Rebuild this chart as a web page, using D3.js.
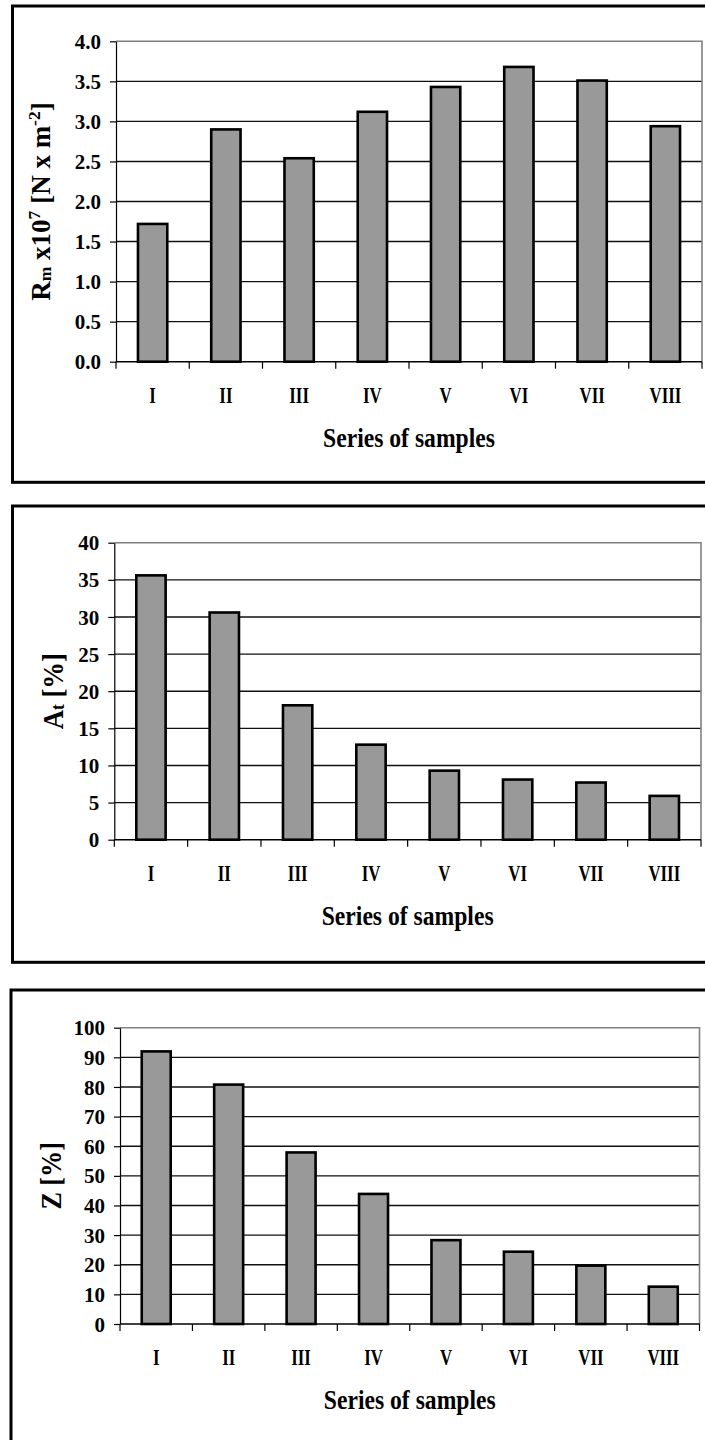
<!DOCTYPE html>
<html>
<head>
<meta charset="utf-8">
<script src="https://cdn.jsdelivr.net/npm/d3@7"></script>
<style>
  html, body { margin: 0; padding: 0; background: #fff; }
  svg { display: block; }
  text { font-family: "Liberation Serif", "Times New Roman", serif; font-weight: bold; fill: #000; }
</style>
</head>
<body>
<svg id="chart" width="705" height="1440"></svg>
<script>
// ---- data ----
const categories = ["I", "II", "III", "IV", "V", "VI", "VII", "VIII"];
const rmValues = [1.72, 2.90, 2.54, 3.12, 3.43, 3.68, 3.51, 2.94];
const atValues = [35.6, 30.6, 18.1, 12.8, 9.3, 8.1, 7.7, 5.9];
const zValues  = [92.0, 80.8, 57.9, 43.9, 28.3, 24.4, 19.7, 12.6];
const rmTicks = [0, 0.5, 1.0, 1.5, 2.0, 2.5, 3.0, 3.5, 4.0];
const atTicks = [0, 5, 10, 15, 20, 25, 30, 35, 40];
const zTicks  = [0, 10, 20, 30, 40, 50, 60, 70, 80, 90, 100];
const xTitle = "Series of samples";

const svg = d3.select("#chart");

const panels = [
  { values: rmValues, ticks: rmTicks, fmt: d3.format(".1f"),
    frame: { x: 12.5, y: 6, h: 476.3 },
    plot: { l: 116, r: 702, t: 41.3, b: 361.7 },
    title: { x: 50, size: 27, sx: 1.0,
      parts: [["R", 0], ["m", 1], [" x10", 0], ["7", 2], [" [N x m", 0], ["-2", 2], ["]", 0]] } },
  { values: atValues, ticks: atTicks, fmt: d3.format("d"),
    frame: { x: 12.5, y: 506, h: 456.3 },
    plot: { l: 114.3, r: 701, t: 542.7, b: 839.7 },
    title: { x: 63, size: 29, sx: 0.92,
      parts: [["A", 0], ["t", 1], [" [%]", 0]] } },
  { values: zValues, ticks: zTicks, fmt: d3.format("d"),
    frame: { x: 11, y: 990, h: 520 },
    plot: { l: 120, r: 699.5, t: 1027.7, b: 1324 },
    title: { x: 61, size: 29, sx: 0.9,
      parts: [["Z [%]", 0]] } }
];

panels.forEach(p => {
  const g = svg.append("g");
  // outer frame
  g.append("rect")
    .attr("x", p.frame.x).attr("y", p.frame.y)
    .attr("width", 720).attr("height", p.frame.h)
    .attr("fill", "none").attr("stroke", "#000").attr("stroke-width", 3);

  const x = d3.scaleBand().domain(categories).range([p.plot.l, p.plot.r]).padding(0);
  const yMax = p.ticks[p.ticks.length - 1];
  const y = d3.scaleLinear().domain([0, yMax]).range([p.plot.b, p.plot.t]);

  // gridlines
  g.append("g").selectAll("line")
    .data(p.ticks.filter(t => t > 0 && t < yMax))
    .join("line")
    .attr("x1", p.plot.l).attr("x2", p.plot.r)
    .attr("y1", d => y(d)).attr("y2", d => y(d))
    .attr("stroke", "#111").attr("stroke-width", 1.4);

  // top & right border (gray)
  g.append("path")
    .attr("d", `M${p.plot.l},${y(yMax)}H${p.plot.r}V${p.plot.b}`)
    .attr("fill", "none").attr("stroke", "#808080").attr("stroke-width", 1.6);

  // bars
  const bw = x.bandwidth() * 0.40;
  g.append("g").selectAll("rect")
    .data(p.values)
    .join("rect")
    .attr("x", (d, i) => x(categories[i]) + x.bandwidth() / 2 - bw / 2)
    .attr("y", d => y(d))
    .attr("width", bw)
    .attr("height", d => y(0) - y(d))
    .attr("fill", "#999999").attr("stroke", "#000").attr("stroke-width", 2.6);

  // y axis
  const yAxis = d3.axisLeft(y).tickValues(p.ticks).tickFormat(p.fmt)
    .tickSize(6).tickSizeOuter(0).tickPadding(9);
  const ya = g.append("g").attr("transform", `translate(${p.plot.l},0)`).call(yAxis);
  ya.select(".domain").attr("stroke", "#000").attr("stroke-width", 1.2);
  ya.selectAll(".tick line").attr("stroke", "#000").attr("stroke-width", 1.2);
  ya.selectAll(".tick text")
    .attr("font-family", "Liberation Serif, Times New Roman, serif")
    .attr("font-weight", "bold").attr("font-size", 21).attr("fill", "#000")
    .attr("dy", "0.34em");

  // x axis line
  g.append("line")
    .attr("x1", p.plot.l).attr("x2", p.plot.r)
    .attr("y1", y(0)).attr("y2", y(0))
    .attr("stroke", "#000").attr("stroke-width", 1.4);
  // x ticks at band boundaries
  const bounds = categories.map(c => x(c)).concat([x.range()[1]]);
  g.append("g").selectAll("line")
    .data(bounds).join("line")
    .attr("x1", d => d).attr("x2", d => d)
    .attr("y1", y(0)).attr("y2", y(0) + 7)
    .attr("stroke", "#000").attr("stroke-width", 1.2);
  // x labels
  g.append("g").selectAll("text")
    .data(categories).join("text")
    .attr("transform", d => `translate(${x(d) + x.bandwidth() / 2},${y(0) + 41}) scale(0.73,1)`)
    .attr("text-anchor", "middle").attr("font-size", 23)
    .text(d => d);

  // x title
  g.append("text")
    .attr("transform", `translate(${(p.plot.l + p.plot.r) / 2},${y(0) + 85}) scale(0.875,1)`)
    .attr("text-anchor", "middle").attr("font-size", 27)
    .text(xTitle);

  // y title
  const cy = (p.plot.t + p.plot.b) / 2;
  const t = g.append("text")
    .attr("transform", `translate(${p.title.x},${cy}) rotate(-90) scale(${p.title.sx},1)`)
    .attr("text-anchor", "middle").attr("font-size", p.title.size);
  p.title.parts.forEach(([s, kind]) => {
    const ts = t.append("tspan").text(s);
    if (kind === 1) ts.attr("font-size", p.title.size * 0.65).attr("baseline-shift", "-8%");
    if (kind === 2) ts.attr("font-size", p.title.size * 0.65).attr("baseline-shift", "super");
  });
});
</script>
</body>
</html>
